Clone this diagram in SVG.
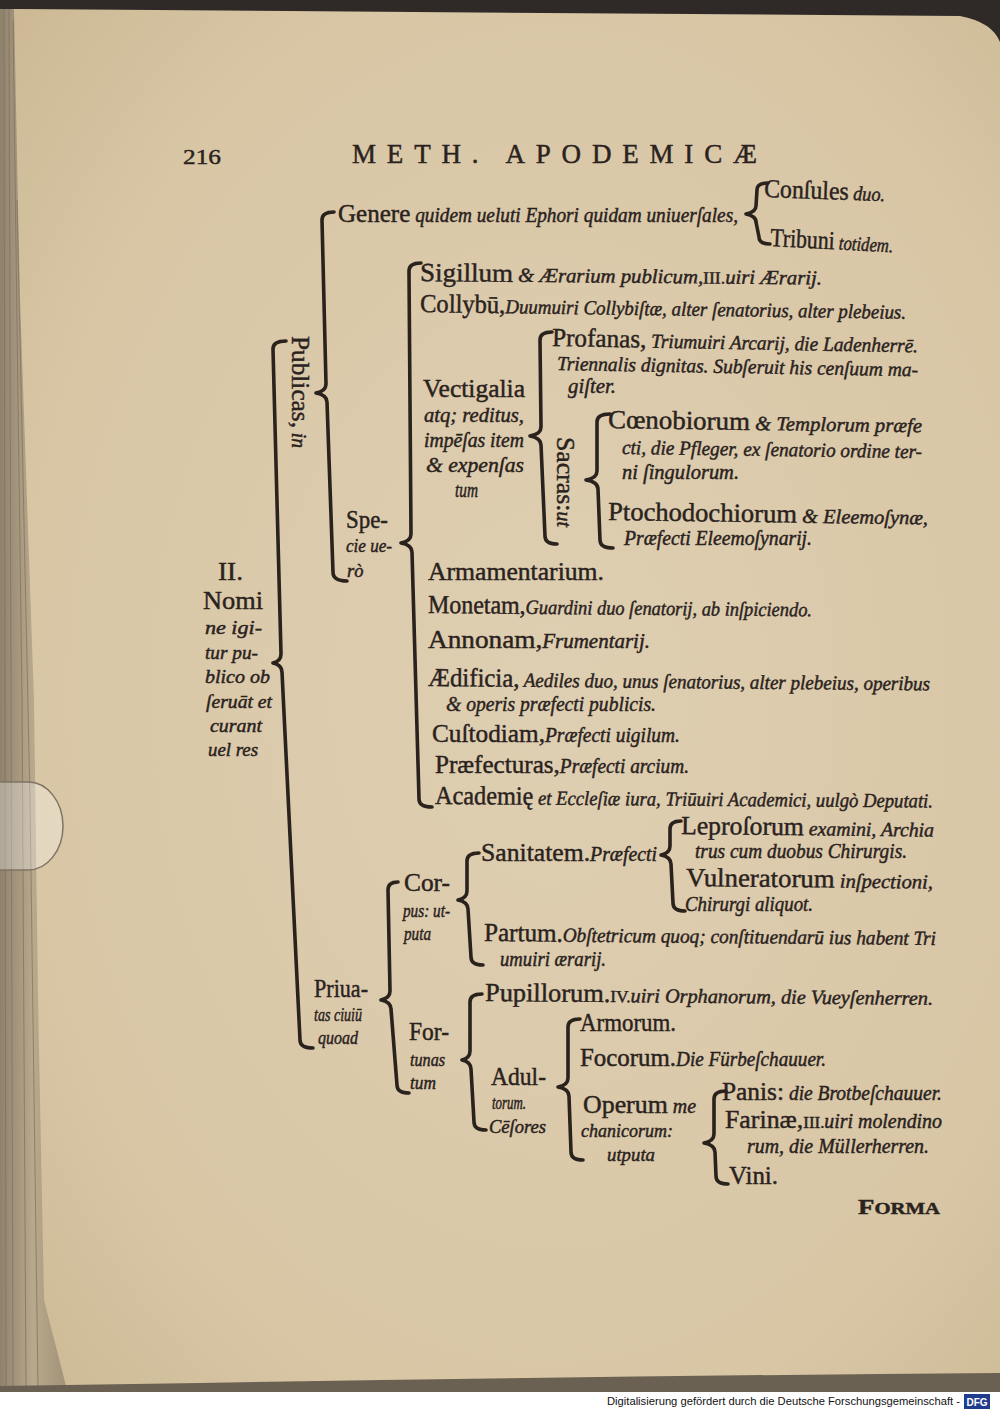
<svg xmlns="http://www.w3.org/2000/svg" width="1000" height="1411" viewBox="0 0 1000 1411">
<style>
.t{font-family:"Liberation Serif","DejaVu Serif",serif;fill:#2a221d;stroke:#2a221d;stroke-width:0.45}
.r{font-size:26px}
.i{font-style:italic;font-size:20px}
.c{font-style:italic;font-size:18.5px}
.s{font-size:17px}
.h{font-size:27px}
.brace{fill:none;stroke:#2a221d;stroke-width:3.6;stroke-linecap:round;stroke-linejoin:round}
.foot{font-family:"Liberation Sans","DejaVu Sans",sans-serif;font-size:11px;fill:#111}
</style>
<defs>
<radialGradient id="paper" cx="0.55" cy="0.5" r="0.75">
<stop offset="0" stop-color="#dfcfb2"/>
<stop offset="0.7" stop-color="#d8c6a5"/>
<stop offset="1" stop-color="#cbb792"/>
</radialGradient>
<linearGradient id="stack" x1="0" x2="1" y1="0" y2="0">
<stop offset="0" stop-color="#8f826d"/>
<stop offset="0.5" stop-color="#b8a88c"/>
<stop offset="1" stop-color="#a29277"/>
</linearGradient>
</defs>

<g id="page">
<rect x="0" y="0" width="1000" height="1411" fill="#ffffff"/>
<rect x="0" y="0" width="1000" height="1392" fill="url(#paper)"/>
<path d="M0,0 H1000 V42 Q992,22 960,16 L20,9 L0,9 Z" fill="#2f2a28"/>
<path d="M0,9 L14,9 L20,300 L34,700 L38,1000 L44,1300 L66,1386 L0,1392 Z" fill="url(#stack)"/>
<g stroke="#7d705c" stroke-width="1" fill="none" opacity="0.7">
<path d="M4,9 L6,1390"/><path d="M9,9 L13,1390"/><path d="M13,20 L22,700 L26,1390"/><path d="M17,200 L30,800 L38,1388"/>
</g>
<path d="M0,1386 L200,1383 Q600,1376 1000,1373 L1000,1392 L0,1392 Z" fill="#6a6152"/>
<path d="M-20,782 H28 A35,44 0 0 1 28,870 H-20 Z" fill="#ffffff" fill-opacity="0.3" stroke="#7f7464" stroke-width="1.5"/>
<rect x="0" y="1392" width="1000" height="19" fill="#ffffff"/>
</g>

<g id="header">
<text class="t" x="183" y="164" font-size="22" textLength="38" lengthAdjust="spacingAndGlyphs" stroke-width="0.6">216</text>
<text class="t h" x="352" y="163" textLength="405" lengthAdjust="spacing" stroke-width="0.6">METH. APODEMICÆ</text>
</g>

<g id="connectors">
<path class="brace" d="M286,341 Q273,341 273,349 L281,654 Q281,661 273,663 Q282,665 282,672 L300,1040 Q300,1048 313,1048"/>
<path class="brace" d="M334,212 Q322,212 322,220 L326,384 Q326,391 316,393 Q327,395 327,402 L333,572 Q333,581 347,581"/>
<path class="brace" d="M768,183 Q757,183 757,190 L756,206 Q756,212 746,214 Q756,216 756,222 L759,237 Q759,244 770,244"/>
<path class="brace" d="M421,263 Q409,263 409,271 L411,534 Q411,541 401,543 Q412,545 412,552 L419,799 Q419,807 432,807"/>
<path class="brace" d="M552,332 Q540,332 540,340 L541,427 Q541,434 530,436 Q541,438 541,445 L545,536 Q545,544 557,544"/>
<path class="brace" d="M610,414 Q597,414 597,422 L597,471 Q597,478 586,480 Q598,482 598,489 L600,540 Q600,548 613,548"/>
<path class="brace" d="M398,882 Q388,882 388,890 L390,991 Q390,998 381,1000 Q391,1002 391,1009 L397,1085 Q397,1093 409,1093"/>
<path class="brace" d="M479,853 Q467,853 467,861 L467,891 Q467,898 458,900 Q468,902 468,909 L471,957 Q471,965 483,965"/>
<path class="brace" d="M681,821 Q670,821 670,829 L670,846 Q670,853 661,855 Q671,857 671,864 L673,903 Q673,911 685,911"/>
<path class="brace" d="M482,994 Q470,994 470,1002 L470,1051 Q470,1058 462,1060 Q471,1062 471,1069 L474,1122 Q474,1130 486,1130"/>
<path class="brace" d="M580,1019 Q568,1019 568,1027 L568,1078 Q568,1085 558,1087 Q569,1089 569,1096 L571,1152 Q571,1160 583,1160"/>
<path class="brace" d="M726,1091 Q714,1091 714,1099 L714,1134 Q714,1141 704,1143 Q715,1145 715,1152 L716,1176 Q716,1184 728,1184"/>
</g>

<g id="n-root">
<text class="t r" x="218" y="580" textLength="25" lengthAdjust="spacingAndGlyphs" font-size="23">II.</text>
<text class="t r" x="203" y="609" textLength="60" lengthAdjust="spacingAndGlyphs">Nomi</text>
<text class="t c" x="205" y="634" textLength="57" lengthAdjust="spacingAndGlyphs">ne igi-</text>
<text class="t c" x="205" y="659" textLength="53" lengthAdjust="spacingAndGlyphs">tur pu-</text>
<text class="t c" x="205" y="683" textLength="65" lengthAdjust="spacingAndGlyphs">blico ob</text>
<text class="t c" x="206" y="708" textLength="66" lengthAdjust="spacingAndGlyphs">ſeruāt et</text>
<text class="t c" x="210" y="732" textLength="52" lengthAdjust="spacingAndGlyphs">curant</text>
<text class="t c" x="208" y="756" textLength="50" lengthAdjust="spacingAndGlyphs">uel res</text>
</g>

<g id="n-publicas">
<text class="t" transform="translate(292,336) rotate(90)" x="0" y="0" textLength="112" lengthAdjust="spacingAndGlyphs"><tspan class="r" font-size="22">Publicas,</tspan><tspan class="i"> in</tspan></text>
</g>

<g id="n-genere">
<text class="t" x="338" y="222" textLength="400" lengthAdjust="spacingAndGlyphs"><tspan class="r">Genere</tspan><tspan class="i"> quidem ueluti Ephori quidam uniuerſales,</tspan></text>
</g>
<g id="n-consules">
<text class="t" x="764" y="197" textLength="121" lengthAdjust="spacingAndGlyphs" transform="rotate(2 764 197)"><tspan class="r">Conſules</tspan><tspan class="i"> duo.</tspan></text>
</g>
<g id="n-tribuni">
<text class="t" x="770" y="246" textLength="123" lengthAdjust="spacingAndGlyphs" transform="rotate(3 770 246)"><tspan class="r">Tribuni</tspan><tspan class="i"> totidem.</tspan></text>
</g>

<g id="n-specie">
<text class="t r" x="346" y="528" textLength="42" lengthAdjust="spacingAndGlyphs">Spe-</text>
<text class="t c" x="346" y="552" textLength="46" lengthAdjust="spacingAndGlyphs">cie ue-</text>
<text class="t c" x="347" y="577">rò</text>
</g>

<g id="n-sigillum">
<text class="t" x="420" y="281" textLength="402" lengthAdjust="spacingAndGlyphs" transform="rotate(0.5 420 281)"><tspan class="r">Sigillum</tspan><tspan class="i"> &amp; Ærarium publicum,</tspan><tspan class="r s">III.</tspan><tspan class="i">uiri Ærarij.</tspan></text>
</g>
<g id="n-collybu">
<text class="t" x="420" y="312" textLength="486" lengthAdjust="spacingAndGlyphs" transform="rotate(0.8 420 312)"><tspan class="r">Collybū,</tspan><tspan class="i">Duumuiri Collybiſtæ, alter ſenatorius, alter plebeius.</tspan></text>
</g>

<g id="n-vectigalia">
<text class="t r" x="423" y="397" textLength="102" lengthAdjust="spacingAndGlyphs">Vectigalia</text>
<text class="t i" x="424" y="422" textLength="100" lengthAdjust="spacingAndGlyphs">atq; reditus,</text>
<text class="t i" x="424" y="447" textLength="100" lengthAdjust="spacingAndGlyphs">impēſas item</text>
<text class="t i" x="426" y="472" textLength="98" lengthAdjust="spacingAndGlyphs">&amp; expenſas</text>
<text class="t i" x="455" y="497" textLength="23" lengthAdjust="spacingAndGlyphs">tum</text>
</g>

<g id="n-profanas">
<text class="t" x="552" y="346" textLength="366" lengthAdjust="spacingAndGlyphs" transform="rotate(1 552 346)"><tspan class="r">Profanas,</tspan><tspan class="i"> Triumuiri Arcarij, die Ladenherrē.</tspan></text>
<text class="t i" x="557" y="370" textLength="361" lengthAdjust="spacingAndGlyphs" transform="rotate(1 557 370)">Triennalis dignitas. Subſeruit his cenſuum ma-</text>
<text class="t i" x="568" y="393" textLength="48" lengthAdjust="spacingAndGlyphs">giſter.</text>
</g>

<g id="n-sacras">
<text class="t" transform="translate(557,437) rotate(90)" x="0" y="0" textLength="90" lengthAdjust="spacingAndGlyphs"><tspan class="r" font-size="22">Sacras:</tspan><tspan class="i">ut</tspan></text>
</g>

<g id="n-coenobiorum">
<text class="t" x="608" y="428" textLength="314" lengthAdjust="spacingAndGlyphs" transform="rotate(0.8 608 428)"><tspan class="r">Cœnobiorum</tspan><tspan class="i"> &amp; Templorum præfe</tspan></text>
<text class="t i" x="622" y="454" textLength="300" lengthAdjust="spacingAndGlyphs" transform="rotate(0.8 622 454)">cti, die Pfleger, ex ſenatorio ordine ter-</text>
<text class="t i" x="622" y="479" textLength="117" lengthAdjust="spacingAndGlyphs">ni ſingulorum.</text>
</g>
<g id="n-ptochodochiorum">
<text class="t" x="608" y="520" textLength="320" lengthAdjust="spacingAndGlyphs" transform="rotate(0.8 608 520)"><tspan class="r">Ptochodochiorum</tspan><tspan class="i"> &amp; Eleemoſynæ,</tspan></text>
<text class="t i" x="624" y="545" textLength="188" lengthAdjust="spacingAndGlyphs">Præfecti Eleemoſynarij.</text>
</g>

<g id="n-armamentarium">
<text class="t r" x="428" y="580" textLength="176" lengthAdjust="spacingAndGlyphs">Armamentarium.</text>
</g>
<g id="n-monetam">
<text class="t" x="428" y="613" textLength="384" lengthAdjust="spacingAndGlyphs" transform="rotate(0.5 428 613)"><tspan class="r">Monetam,</tspan><tspan class="i">Guardini duo ſenatorij, ab inſpiciendo.</tspan></text>
</g>
<g id="n-annonam">
<text class="t" x="428" y="648" textLength="222" lengthAdjust="spacingAndGlyphs"><tspan class="r">Annonam,</tspan><tspan class="i">Frumentarij.</tspan></text>
</g>
<g id="n-aedificia">
<text class="t" x="428" y="686" textLength="502" lengthAdjust="spacingAndGlyphs" transform="rotate(0.5 428 686)"><tspan class="r">Ædificia,</tspan><tspan class="i"> Aediles duo, unus ſenatorius, alter plebeius, operibus</tspan></text>
<text class="t i" x="446" y="711" textLength="210" lengthAdjust="spacingAndGlyphs">&amp; operis præfecti publicis.</text>
</g>
<g id="n-custodiam">
<text class="t" x="432" y="742" textLength="248" lengthAdjust="spacingAndGlyphs"><tspan class="r">Cuſtodiam,</tspan><tspan class="i">Præfecti uigilum.</tspan></text>
</g>
<g id="n-praefecturas">
<text class="t" x="435" y="773" textLength="254" lengthAdjust="spacingAndGlyphs"><tspan class="r">Præfecturas,</tspan><tspan class="i">Præfecti arcium.</tspan></text>
</g>
<g id="n-academie">
<text class="t" x="435" y="804" textLength="498" lengthAdjust="spacingAndGlyphs" transform="rotate(0.4 435 804)"><tspan class="r">Academię</tspan><tspan class="i"> et Eccleſiæ iura, Triūuiri Academici, uulgò Deputati.</tspan></text>
</g>

<g id="n-priuatas">
<text class="t r" x="314" y="997" textLength="54" lengthAdjust="spacingAndGlyphs">Priua-</text>
<text class="t c" x="314" y="1021" textLength="48" lengthAdjust="spacingAndGlyphs">tas ciuiū</text>
<text class="t c" x="318" y="1044" textLength="40" lengthAdjust="spacingAndGlyphs">quoad</text>
</g>

<g id="n-corpus">
<text class="t r" x="404" y="891" textLength="46" lengthAdjust="spacingAndGlyphs">Cor-</text>
<text class="t c" x="403" y="917" textLength="47" lengthAdjust="spacingAndGlyphs">pus: ut-</text>
<text class="t c" x="404" y="940" textLength="27" lengthAdjust="spacingAndGlyphs">puta</text>
</g>
<g id="n-sanitatem">
<text class="t" x="481" y="861" textLength="176" lengthAdjust="spacingAndGlyphs"><tspan class="r">Sanitatem.</tspan><tspan class="i">Præfecti</tspan></text>
</g>
<g id="n-leprosorum">
<text class="t" x="681" y="834" textLength="253" lengthAdjust="spacingAndGlyphs" transform="rotate(0.6 681 834)"><tspan class="r">Leproſorum</tspan><tspan class="i"> examini, Archia</tspan></text>
<text class="t i" x="695" y="858" textLength="212" lengthAdjust="spacingAndGlyphs">trus cum duobus Chirurgis.</text>
</g>
<g id="n-vulneratorum">
<text class="t" x="686" y="886" textLength="247" lengthAdjust="spacingAndGlyphs" transform="rotate(0.6 686 886)"><tspan class="r">Vulneratorum</tspan><tspan class="i">  inſpectioni,</tspan></text>
<text class="t i" x="685" y="911" textLength="128" lengthAdjust="spacingAndGlyphs">Chirurgi aliquot.</text>
</g>
<g id="n-partum">
<text class="t" x="484" y="941" textLength="452" lengthAdjust="spacingAndGlyphs" transform="rotate(0.5 484 941)"><tspan class="r">Partum.</tspan><tspan class="i">Obſtetricum quoq; conſtituendarū ius habent Tri</tspan></text>
<text class="t i" x="500" y="966" textLength="106" lengthAdjust="spacingAndGlyphs">umuiri ærarij.</text>
</g>

<g id="n-fortunas">
<text class="t r" x="409" y="1040" textLength="40" lengthAdjust="spacingAndGlyphs">For-</text>
<text class="t c" x="410" y="1066" textLength="35" lengthAdjust="spacingAndGlyphs">tunas</text>
<text class="t c" x="410" y="1089" textLength="26" lengthAdjust="spacingAndGlyphs">tum</text>
</g>
<g id="n-pupillorum">
<text class="t" x="485" y="1001" textLength="448" lengthAdjust="spacingAndGlyphs" transform="rotate(0.5 485 1001)"><tspan class="r">Pupillorum.</tspan><tspan class="r s">IV.</tspan><tspan class="i">uiri Orphanorum, die Vueyſenherren.</tspan></text>
</g>
<g id="n-adultorum">
<text class="t r" x="491" y="1085" textLength="55" lengthAdjust="spacingAndGlyphs">Adul-</text>
<text class="t c" x="492" y="1109" textLength="34" lengthAdjust="spacingAndGlyphs">torum.</text>
<text class="t c" x="489" y="1133" textLength="57" lengthAdjust="spacingAndGlyphs">Cēſores</text>
</g>
<g id="n-armorum">
<text class="t r" x="580" y="1031" textLength="96" lengthAdjust="spacingAndGlyphs">Armorum.</text>
</g>
<g id="n-focorum">
<text class="t" x="580" y="1066" textLength="246" lengthAdjust="spacingAndGlyphs"><tspan class="r">Focorum.</tspan><tspan class="i">Die Fürbeſchauuer.</tspan></text>
</g>
<g id="n-operum">
<text class="t" x="583" y="1113" textLength="113" lengthAdjust="spacingAndGlyphs"><tspan class="r">Operum</tspan><tspan class="i"> me</tspan></text>
<text class="t c" x="581" y="1137" textLength="92" lengthAdjust="spacingAndGlyphs">chanicorum:</text>
<text class="t c" x="607" y="1161" textLength="48" lengthAdjust="spacingAndGlyphs">utputa</text>
</g>
<g id="n-panis">
<text class="t" x="722" y="1100" textLength="220" lengthAdjust="spacingAndGlyphs"><tspan class="r">Panis:</tspan><tspan class="i"> die Brotbeſchauuer.</tspan></text>
</g>
<g id="n-farinae">
<text class="t" x="725" y="1128" textLength="217" lengthAdjust="spacingAndGlyphs"><tspan class="r">Farinæ,</tspan><tspan class="r s">III.</tspan><tspan class="i">uiri molendino</tspan></text>
<text class="t i" x="747" y="1153" textLength="182" lengthAdjust="spacingAndGlyphs">rum, die Müllerherren.</text>
</g>
<g id="n-vini">
<text class="t r" x="729" y="1184" textLength="49" lengthAdjust="spacingAndGlyphs">Vini.</text>
</g>

<g id="catchword">
<text class="t" x="858" y="1214" textLength="82" lengthAdjust="spacingAndGlyphs" font-weight="bold"><tspan font-size="22">F</tspan><tspan font-size="17">ORMA</tspan></text>
</g>

<g id="footer">
<text class="foot" x="607" y="1405" textLength="353" lengthAdjust="spacingAndGlyphs">Digitalisierung gefördert durch die Deutsche Forschungsgemeinschaft -</text>
<rect x="964" y="1394" width="26" height="15" fill="#1f3d8c"/>
<text x="977" y="1406" text-anchor="middle" font-family="Liberation Sans, sans-serif" font-weight="bold" font-size="10" fill="#ffffff">DFG</text>
</g>
</svg>
